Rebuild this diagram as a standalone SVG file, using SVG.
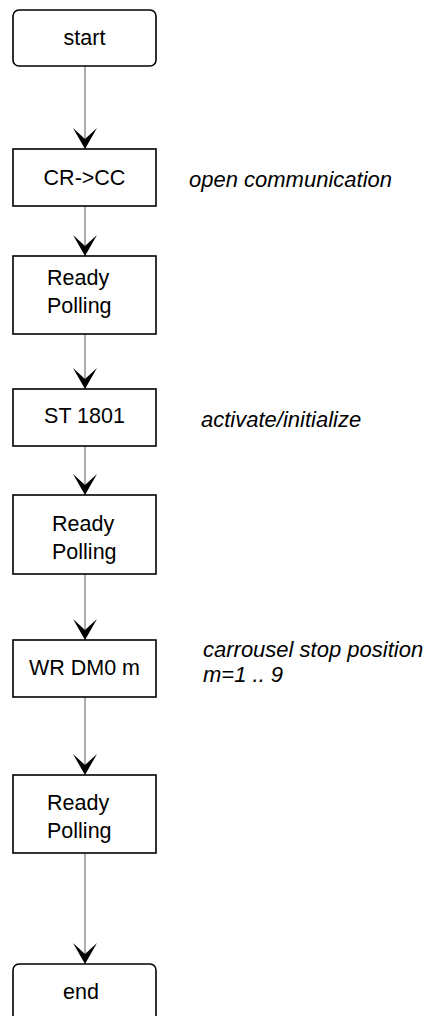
<svg xmlns="http://www.w3.org/2000/svg" width="427" height="1016" viewBox="0 0 427 1016">
<style>
.box{fill:#fff;stroke:#000;stroke-width:1.6}
.t{font-family:"Liberation Sans",Arial,sans-serif;font-size:21.5px;fill:#000}
.c{text-anchor:middle}
.lbl{font-family:"Liberation Sans",Arial,sans-serif;font-size:22px;font-style:italic;fill:#000}
.conn{stroke:#777;stroke-width:1.2;fill:none;marker-end:url(#arr)}
</style>
<defs>
<marker id="arr" markerUnits="userSpaceOnUse" markerWidth="22" markerHeight="26" viewBox="0 0 22 26" refX="21" refY="13" orient="auto">
<path d="M0,1 L21,13 L0,25 L11,13 Z" fill="#000"/>
</marker>
</defs>
<rect width="427" height="1016" fill="#fff"/>
<g id="connectors">
<line class="conn" x1="85" y1="66" x2="85" y2="149"/>
<line class="conn" x1="85" y1="206" x2="85" y2="256"/>
<line class="conn" x1="85" y1="334" x2="85" y2="389"/>
<line class="conn" x1="85" y1="446" x2="85" y2="495"/>
<line class="conn" x1="85" y1="574" x2="85" y2="640"/>
<line class="conn" x1="85" y1="697" x2="85" y2="775"/>
<line class="conn" x1="85" y1="853" x2="85" y2="964"/>
</g>
<g id="start">
<rect class="box" x="13" y="10" width="143" height="56" rx="6"/>
<text class="t c" x="84.5" y="45">start</text>
</g>
<g id="crcc">
<rect class="box" x="13" y="149" width="143" height="57"/>
<text class="t c" x="84.5" y="185">CR-&gt;CC</text>
</g>
<g id="ready1">
<rect class="box" x="13" y="256" width="143" height="78"/>
<text class="t" x="47" y="285">Ready</text>
<text class="t" x="47" y="313">Polling</text>
</g>
<g id="st1801">
<rect class="box" x="13" y="389" width="143" height="57"/>
<text class="t c" x="84.5" y="423">ST 1801</text>
</g>
<g id="ready2">
<rect class="box" x="13" y="495" width="143" height="79"/>
<text class="t" x="52" y="531">Ready</text>
<text class="t" x="52" y="559">Polling</text>
</g>
<g id="wrdm0">
<rect class="box" x="13" y="640" width="143" height="57"/>
<text class="t c" x="84.5" y="675">WR DM0 m</text>
</g>
<g id="ready3">
<rect class="box" x="13" y="775" width="143" height="78"/>
<text class="t" x="47" y="810">Ready</text>
<text class="t" x="47" y="838">Polling</text>
</g>
<g id="end">
<rect class="box" x="13" y="964" width="143" height="60" rx="6"/>
<text class="t c" x="81" y="999">end</text>
</g>
<g id="labels">
<text class="lbl" x="189" y="187">open communication</text>
<text class="lbl" x="201" y="427">activate/initialize</text>
<text class="lbl" x="203" y="657">carrousel stop position</text>
<text class="lbl" x="203" y="682">m=1 .. 9</text>
</g>
</svg>
